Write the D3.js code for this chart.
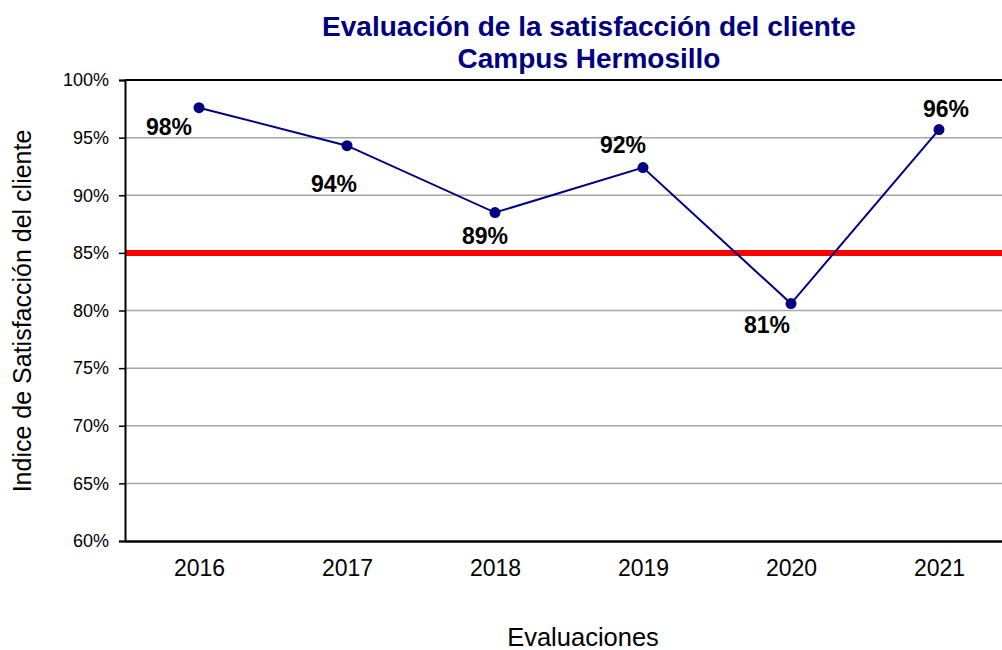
<!DOCTYPE html>
<html>
<head>
<meta charset="utf-8">
<script src="https://cdn.jsdelivr.net/npm/d3@7"></script>
<style>
  body { margin: 0; background: #fff; }
  svg { display: block; font-family: "Liberation Sans", Arial, sans-serif; }
</style>
</head>
<body>
<svg id="chart" width="1002" height="650"></svg>
<script>
// data
const years = ['2016', '2017', '2018', '2019', '2020', '2021'];
const satisfaction = [0.976, 0.943, 0.885, 0.924, 0.806, 0.957];
const labels = ['98%', '94%', '89%', '92%', '81%', '96%'];
const yTicks = [0.6, 0.65, 0.7, 0.75, 0.8, 0.85, 0.9, 0.95, 1.0];
const target = 0.85;

// where each data label sits relative to its point (dx, dy)
const labelOffset = {
  '2016': [-30, 27], '2017': [-13, 46], '2018': [-10, 31],
  '2019': [-20, -15], '2020': [-24, 29], '2021': [7, -13]
};

const margin = { top: 80, right: -11, bottom: 109, left: 125 };
const svgEl = d3.select('#chart');
const W = 1002, H = 650;
const width = W - margin.left - margin.right;
const height = H - margin.top - margin.bottom;
const font = '"Liberation Sans", Arial, sans-serif';

const g = svgEl.append('g').attr('transform', `translate(${margin.left},${margin.top})`);

const x = d3.scalePoint().domain(years).range([0, width]).padding(0.5);
const y = d3.scaleLinear().domain([0.6, 1.0]).range([height, 0]);

// gridlines
g.selectAll('.grid')
  .data(yTicks.filter(d => d > 0.6 && d < 1.0))
  .join('line')
  .attr('x1', 0).attr('x2', width)
  .attr('y1', d => y(d)).attr('y2', d => y(d))
  .attr('stroke', '#a6a6a6').attr('stroke-width', 1.5);

// top border
g.append('line')
  .attr('x1', 0).attr('x2', width).attr('y1', 0).attr('y2', 0)
  .attr('stroke', '#000').attr('stroke-width', 2);

// target line
g.append('line')
  .attr('x1', 0).attr('x2', width)
  .attr('y1', y(target)).attr('y2', y(target))
  .attr('stroke', '#ff0000').attr('stroke-width', 6);

// y axis
const yAxis = g.append('g')
  .call(d3.axisLeft(y).tickValues(yTicks).tickFormat(d3.format('.0%')).tickSize(6).tickPadding(10));
yAxis.select('.domain').attr('stroke-width', 2);
yAxis.selectAll('line').attr('stroke-width', 1.5);
yAxis.selectAll('text').attr('font-size', 18).attr('fill', '#000').attr('font-family', font);

// x axis
const xAxis = g.append('g')
  .attr('transform', `translate(0,${height})`)
  .call(d3.axisBottom(x).tickSize(0).tickPadding(19));
xAxis.select('.domain').attr('stroke-width', 2.5);
xAxis.selectAll('text').attr('font-size', 23).attr('fill', '#000').attr('font-family', font);

// series line
const pts = years.map((yr, i) => ({ yr, v: satisfaction[i], lab: labels[i] }));
g.append('path')
  .datum(pts)
  .attr('fill', 'none')
  .attr('stroke', '#000080')
  .attr('stroke-width', 2)
  .attr('d', d3.line().x(d => x(d.yr)).y(d => y(d.v)));

g.selectAll('.dot')
  .data(pts)
  .join('circle')
  .attr('cx', d => x(d.yr)).attr('cy', d => y(d.v))
  .attr('r', 5.5)
  .attr('fill', '#000080');

// data labels
g.selectAll('.lab')
  .data(pts)
  .join('text')
  .attr('x', d => x(d.yr) + labelOffset[d.yr][0])
  .attr('y', d => y(d.v) + labelOffset[d.yr][1])
  .attr('text-anchor', 'middle')
  .attr('font-size', 23)
  .attr('font-weight', 'bold')
  .attr('fill', '#000')
  .text(d => d.lab);

// title
svgEl.append('text')
  .attr('x', 589).attr('y', 36)
  .attr('text-anchor', 'middle')
  .attr('font-size', 28).attr('font-weight', 'bold').attr('fill', '#000080')
  .text('Evaluación de la satisfacción del cliente');
svgEl.append('text')
  .attr('x', 589).attr('y', 68)
  .attr('text-anchor', 'middle')
  .attr('font-size', 28).attr('font-weight', 'bold').attr('fill', '#000080')
  .text('Campus Hermosillo');

// axis titles
svgEl.append('text')
  .attr('x', 583).attr('y', 646)
  .attr('text-anchor', 'middle')
  .attr('font-size', 25.5).attr('fill', '#000')
  .text('Evaluaciones');
svgEl.append('text')
  .attr('transform', 'translate(31,311) rotate(-90)')
  .attr('text-anchor', 'middle')
  .attr('font-size', 25).attr('fill', '#000')
  .text('Indice de Satisfacción del cliente');
</script>
</body>
</html>
